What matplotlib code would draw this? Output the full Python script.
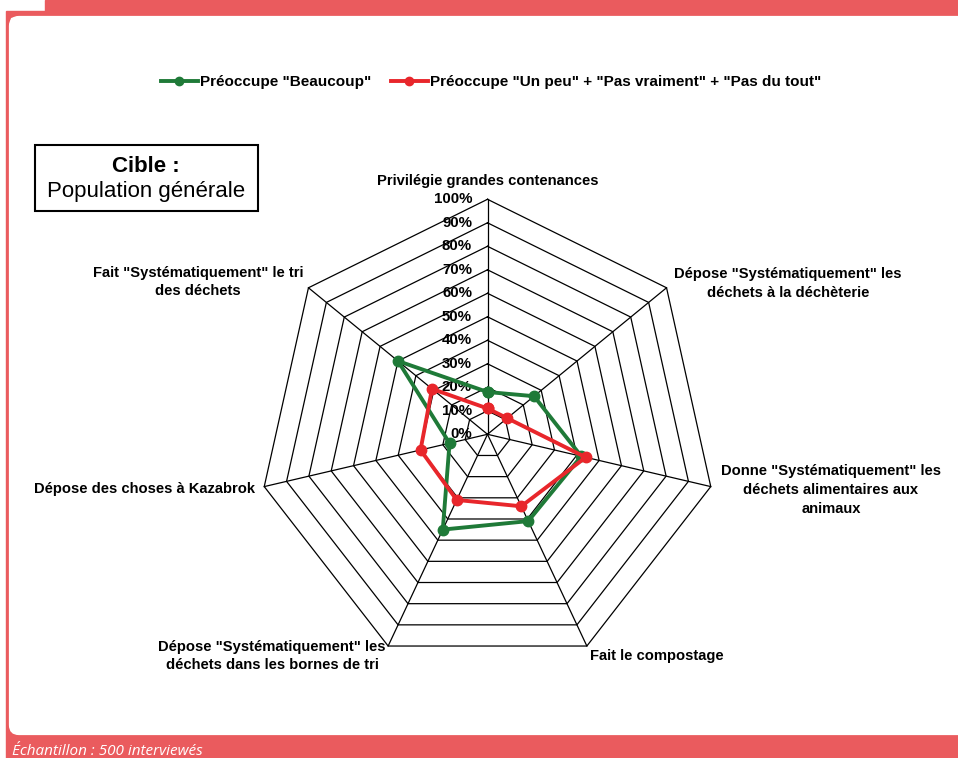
import numpy as np
import matplotlib.pyplot as plt
import matplotlib.patches as mpatches
from matplotlib.lines import Line2D

plt.rcParams['font.family'] = ['Liberation Sans', 'DejaVu Sans']

# Data (clockwise from top)
categories = [
    'Privilégie grandes contenances',
    'Dépose "Systématiquement" les\ndéchets à la déchèterie',
    'Donne "Systématiquement" les\ndéchets alimentaires aux\nanimaux',
    'Fait le compostage',
    'Dépose "Systématiquement" les\ndéchets dans les bornes de tri',
    'Dépose des choses à Kazabrok',
    'Fait "Systématiquement" le tri\ndes déchets',
]
beaucoup = [18, 26, 42, 41, 45, 17, 50]
autres = [11, 11, 44, 34, 31, 30, 31]
rings = [0, 10, 20, 30, 40, 50, 60, 70, 80, 90, 100]
ring_labels = ['0%', '10%', '20%', '30%', '40%', '50%', '60%', '70%', '80%', '90%', '100%']
series_names = ['Préoccupe "Beaucoup"',
                'Préoccupe "Un peu" + "Pas vraiment" + "Pas du tout"']

GREEN = '#1F7A38'
RED = '#E8262B'
FRAME = '#EA5B5E'

W, H = 958, 758
fig = plt.figure(figsize=(W / 100, H / 100), dpi=100)
fig.patch.set_facecolor('white')

# centre of the web in pixels, pixels per 100 % (slightly stretched vertically)
cx, cy = 487.5, 434.3
sx, sy = 2.29, 2.35


def px(x, y):
    return (x - cx) / sx, (cy - y) / sy


def fig_px(x, y):
    return x / W, 1 - y / H


# red frame
fig.patches.append(mpatches.Rectangle(fig_px(6, 758), 952 / W, 747 / H,
                                      transform=fig.transFigure, color=FRAME, zorder=-3))
fig.patches.append(mpatches.Rectangle(fig_px(45, 17), 913 / W, 17 / H,
                                      transform=fig.transFigure, color=FRAME, zorder=-3))
fig.patches.append(mpatches.FancyBboxPatch(fig_px(11 + 8, 733 - 8), 960 / W, (733 - 18 - 16) / H,
                                           boxstyle=f'round,pad={8 / H}', mutation_aspect=W / H,
                                           transform=fig.transFigure, facecolor='white',
                                           edgecolor='none', zorder=-2))
fig.patches.append(mpatches.Rectangle(fig_px(11, 60), 60 / W, 42 / H,
                                      transform=fig.transFigure, color='white', zorder=-2))
fig.text(12 / W, 1 - 755 / H, 'Échantillon : 500 interviewés', color='white',
         fontsize=11, style='italic', family=['Open Sans', 'DejaVu Sans'],
         ha='left', va='baseline')

ax = fig.add_axes([0, 0, 1, 1])
ax.set_zorder(2)
ax.patch.set_alpha(0)
ax.set_xlim((0 - cx) / sx, (W - cx) / sx)
ax.set_ylim((cy - H) / sy, cy / sy)
ax.axis('off')

n = len(categories)
theta = np.arange(n) * 2 * np.pi / n
ux, uy = np.sin(theta), np.cos(theta)

# web
for r in rings[1:]:
    ax.plot(np.append(r * ux, r * ux[0]), np.append(r * uy, r * uy[0]),
            color='black', lw=0.9, zorder=1)
for k in range(n):
    ax.plot([0, 100 * ux[k]], [0, 100 * uy[k]], color='black', lw=0.9, zorder=1)

# ring labels
lx, _ = px(472, 0)
for r, lab in zip(rings, ring_labels):
    ax.text(lx, r, lab, ha='right', va='center', fontsize=10.8, fontweight='bold', zorder=2)

# series
for vals, col in [(beaucoup, GREEN), (autres, RED)]:
    v = np.array(vals, dtype=float)
    xs, ys = v * ux, v * uy
    ax.plot(np.append(xs, xs[0]), np.append(ys, ys[0]), color=col, lw=2.8,
            marker='o', ms=7.5, zorder=4)

# category labels
label_px = [(488, 181), (788, 283.5), (831, 490), (657, 656),
            (272, 656), (144, 489), (198, 282)]
for lab, (x, y) in zip(categories, label_px):
    ax.text(*px(x, y), lab, ha='center', va='center', fontsize=10.6,
            fontweight='bold', linespacing=1.42, zorder=3)

# target box
fig.patches.append(mpatches.Rectangle(fig_px(35, 211), 223 / W, 66 / H,
                                      transform=fig.transFigure, facecolor='white',
                                      edgecolor='black', lw=1.5, zorder=-1))
fig.text(146 / W, 1 - 166 / H, 'Cible :', ha='center', va='center',
         fontsize=16, fontweight='bold')
fig.text(146 / W, 1 - 192 / H, 'Population générale', ha='center', va='center',
         fontsize=16)

# legend
handles = [Line2D([0], [0], color=GREEN, lw=2.8, marker='o', ms=6),
           Line2D([0], [0], color=RED, lw=2.8, marker='o', ms=6)]
fig.legend(handles, series_names, loc='center', bbox_to_anchor=(491 / W, 1 - 82 / H),
           ncol=2, frameon=False, handlelength=2.4, handletextpad=0.15,
           columnspacing=1.3, prop={'weight': 'bold', 'size': 11})

fig.savefig('out.png', dpi=100)
